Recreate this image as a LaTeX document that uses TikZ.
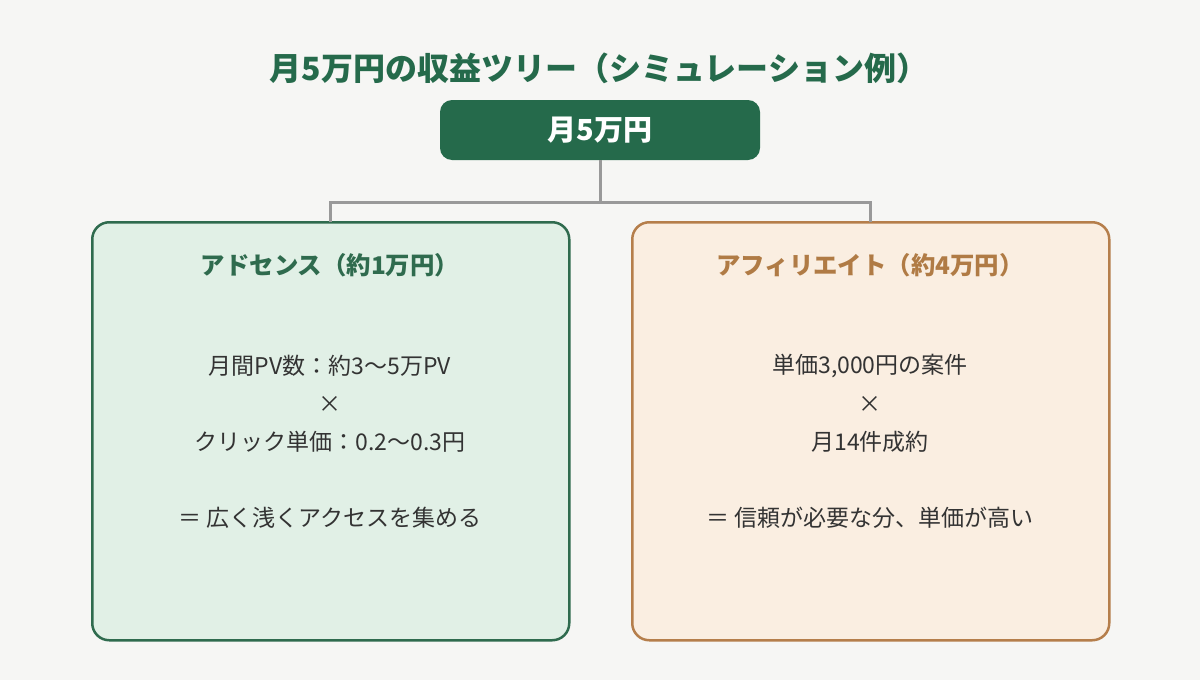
\documentclass[tikz,border=0pt]{standalone}
\usepackage{fontspec}
\newfontfamily\jp{Noto Sans CJK JP}
\definecolor{bg}{HTML}{F6F6F4}
\definecolor{dgreen}{HTML}{256A4B}
\definecolor{lgreen}{HTML}{E1F0E6}
\definecolor{bgreen}{HTML}{2F6B4E}
\definecolor{lpeach}{HTML}{FAEEE1}
\definecolor{brown}{HTML}{B57E4B}
\definecolor{hbrown}{HTML}{B07B45}
\definecolor{txt}{HTML}{333333}
\definecolor{conn}{HTML}{999999}
\tikzset{
  box/.style={draw, line width=2.5pt, rounded corners=17pt, minimum width=477pt, minimum height=418pt, anchor=north west, inner sep=0pt},
  body/.style={text=txt, font=\jp\fontsize{23}{27}\selectfont, inner sep=0pt},
  head/.style={font=\jp\bfseries\fontsize{24.4}{29}\selectfont, inner sep=0pt},
  link/.style={draw=conn, line width=3pt}
}
\begin{document}
\begin{tikzpicture}[x=1pt,y=-1pt]
\fill[bg] (0,0) rectangle (1200,680);
\useasboundingbox (0,0) rectangle (1200,680);
\node[text=dgreen, font=\jp\bfseries\fontsize{32}{38}\selectfont, inner sep=0pt] (title) at (599,68) {月5万円の収益ツリー（シミュレーション例）};
\node[fill=dgreen, rounded corners=12pt, minimum width=320pt, minimum height=60pt, text=white, font=\jp\bfseries\fontsize{29}{34}\selectfont, inner sep=0pt] (top) at (600,130) {月5万円};
\node[box, draw=bgreen, fill=lgreen] (left) at (91,221) {};
\node[box, draw=brown, fill=lpeach] (right) at (631,221) {};
\coordinate (mid) at (600,202);
\draw[link] (top.south) -- (mid);
\draw[link] ([yshift=-1.2pt]left.north) |- (mid) -| ([yshift=-1.2pt]right.north);
\node[head, text=bgreen] (lh) at (330,265) {アドセンス（約1万円）};
\node[head, text=hbrown] (rh) at (870,265) {アフィリエイト（約4万円）};
\node[body] (l1) at (330,366) {月間PV数：約3〜5万PV};
\node[body] (l2) at (330,404) {×};
\node[body] (l3) at (330,442) {クリック単価：0.2〜0.3円};
\node[body] (l4) at (330,518) {＝ 広く浅くアクセスを集める};
\node[body] (r1) at (870,366) {単価3,000円の案件};
\node[body] (r2) at (870,404) {×};
\node[body] (r3) at (870,442) {月14件成約};
\node[body] (r4) at (870,518) {＝ 信頼が必要な分、単価が高い};
\end{tikzpicture}
\end{document}
